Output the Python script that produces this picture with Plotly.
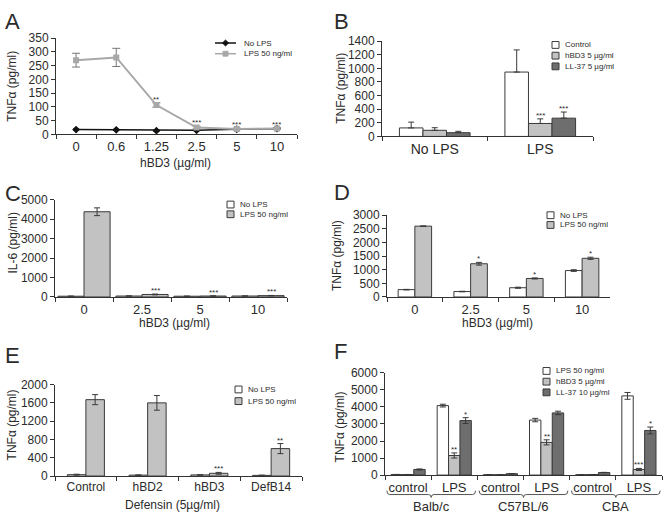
import plotly.graph_objects as go

W, H = 665, 521
FONT = "Liberation Sans, Arial, sans-serif"
TXT = "#2b2b2b"
AX = "#333333"
EDGE = "#3a3a3a"
WHITE = "#ffffff"
LIGHT = "#c2c2c2"
DARK = "#6e6e6e"
GRAYLINE = "#a8a8a8"

# ---------------- data ----------------
# Panel A
a_doses = ["0", "0.6", "1.25", "2.5", "5", "10"]
a_nolps = [18, 17, 14, 15, 19, 21]
a_nolps_err = [2, 2, 2, 2, 2, 2]
a_lps = [270, 280, 107, 25, 20, 22]
a_lps_err = [25, 33, 8, 5, 3, 3]
a_sig = ["", "", "**", "***", "***", "***"]

# Panel B
b_cats = ["No LPS", "LPS"]
b_control = [125, 945]
b_control_err = [85, 325]
b_hbd3 = [90, 190]
b_hbd3_err = [38, 68]
b_ll37 = [55, 268]
b_ll37_err = [20, 90]
b_sig_hbd3 = ["", "***"]
b_sig_ll37 = ["", "***"]

# Panel C
c_doses = ["0", "2.5", "5", "10"]
c_nolps = [40, 50, 40, 50]
c_nolps_err = [5, 5, 5, 5]
c_lps = [4380, 130, 50, 70]
c_lps_err = [200, 20, 10, 10]
c_sig = ["", "***", "***", "***"]

# Panel D
d_doses = ["0", "2.5", "5", "10"]
d_nolps = [270, 200, 340, 970]
d_nolps_err = [10, 10, 20, 30]
d_lps = [2600, 1220, 680, 1420]
d_lps_err = [10, 50, 20, 40]
d_sig = ["", "*", "*", "*"]

# Panel E
e_cats = ["Control", "hBD2", "hBD3", "DefB14"]
e_nolps = [30, 20, 25, 15]
e_nolps_err = [10, 5, 5, 5]
e_lps = [1670, 1600, 60, 600]
e_lps_err = [110, 160, 20, 110]
e_sig = ["", "", "***", "**"]

# Panel F
f_strains = ["Balb/c", "C57BL/6", "CBA"]
f_conds = ["control", "LPS"]
f_lps = [30, 4080, 20, 3230, 20, 4650]
f_lps_err = [10, 80, 5, 100, 5, 200]
f_hbd3 = [30, 1150, 20, 1920, 30, 330]
f_hbd3_err = [5, 150, 5, 150, 5, 60]
f_ll37 = [330, 3200, 80, 3650, 150, 2620]
f_ll37_err = [30, 170, 10, 100, 10, 200]
f_sig_hbd3 = ["", "**", "", "**", "", "***"]
f_sig_ll37 = ["", "*", "", "", "", "*"]

# ---------------- helpers ----------------
def px(x):
    return x / W


def py(y):
    return 1 - y / H


fig = go.Figure()


def setup_axes(n, xd, yd, yrange, dtick, ncat, tickvals=None, ticktext=None, xfont=13):
    xs = "" if n == 1 else str(n)
    fig.update_layout({
        "xaxis" + xs: dict(
            domain=[px(xd[0]), px(xd[1])], anchor="y" + xs, type="category",
            range=[-0.5, ncat - 0.5], showline=True, linecolor=AX, linewidth=1,
            ticks="outside", tickson="boundaries", ticklen=4, tickcolor=AX,
            showgrid=False, zeroline=False, fixedrange=True, tickangle=0,
            tickfont=dict(size=xfont, color=TXT, family=FONT),
            tickvals=tickvals, ticktext=ticktext,
        ),
        "yaxis" + xs: dict(
            domain=[py(yd[1]), py(yd[0])], anchor="x" + xs, range=list(yrange),
            dtick=dtick, showline=True, linecolor=AX, linewidth=1,
            ticks="outside", ticklen=4, tickcolor=AX, showgrid=False,
            zeroline=False, fixedrange=True,
            tickfont=dict(size=12, color=TXT, family=FONT),
        ),
    })


def axis_refs(n):
    s = "" if n == 1 else str(n)
    return "x" + s, "y" + s


def add_bars(n, cats, series, group_w, one_sided=False):
    xa, ya = axis_refs(n)
    k_n = len(series)
    w = group_w / k_n
    for k, (vals, errs, color, sig) in enumerate(series):
        off = -group_w / 2 + k * w
        err = dict(type="data", array=errs, color=EDGE, thickness=1, width=3, visible=True)
        if one_sided:
            err.update(symmetric=False, arrayminus=[0] * len(errs))
        fig.add_trace(go.Bar(
            x=cats, y=vals, width=w, offset=off, xaxis=xa, yaxis=ya,
            marker=dict(color=color, line=dict(color=EDGE, width=1)),
            error_y=err, showlegend=False, hoverinfo="skip",
        ))
        if sig:
            for i, s in enumerate(sig):
                if s:
                    fig.add_annotation(
                        x=i + off + w / 2, y=vals[i] + errs[i], xref=xa, yref=ya,
                        text=s, showarrow=False, yanchor="bottom", yshift=-3,
                        font=dict(size=8, color=TXT, family=FONT),
                    )


def label(text, x, y, size=12, angle=0, anchor="center"):
    fig.add_annotation(
        x=px(x), y=py(y), xref="paper", yref="paper", text=text, showarrow=False,
        textangle=angle, xanchor=anchor, yanchor="middle",
        font=dict(size=size, color=TXT, family=FONT),
    )


def legend_boxes(x0, ys, items, box=7):
    for y, (name, color) in zip(ys, items):
        fig.add_shape(type="rect", xref="paper", yref="paper",
                      x0=px(x0), x1=px(x0 + box), y0=py(y + box / 2), y1=py(y - box / 2),
                      fillcolor=color, line=dict(color=EDGE, width=1))
        label(name, x0 + box + 4, y, size=8, anchor="left")


# ---------------- Panel A ----------------
setup_axes(1, (56, 297), (32, 131), (0, 350), 50, len(a_doses))
fig.add_trace(go.Scatter(
    x=a_doses, y=a_nolps, mode="lines+markers", xaxis="x", yaxis="y",
    line=dict(color="#111111", width=1.5), marker=dict(symbol="diamond", size=6, color="#111111"),
    error_y=dict(type="data", array=a_nolps_err, color="#111111", thickness=1, width=3),
    showlegend=False, hoverinfo="skip",
))
fig.add_trace(go.Scatter(
    x=a_doses, y=a_lps, mode="lines+markers", xaxis="x", yaxis="y",
    line=dict(color=GRAYLINE, width=2), marker=dict(symbol="square", size=6, color=GRAYLINE),
    error_y=dict(type="data", array=a_lps_err, color="#777777", thickness=1, width=4),
    showlegend=False, hoverinfo="skip",
))
for i, s in enumerate(a_sig):
    if s:
        fig.add_annotation(x=i, y=a_lps[i] + a_lps_err[i], xref="x", yref="y",
                           text=s, showarrow=False, yanchor="bottom", yshift=-3,
                           font=dict(size=8, color=TXT, family=FONT))
# legend A
for y, col, sym in [(37, "#111111", "diamond"), (48, GRAYLINE, "square")]:
    fig.add_shape(type="line", xref="paper", yref="paper", x0=px(215), x1=px(236),
                  y0=py(y), y1=py(y), line=dict(color=col, width=1.5))
    if sym == "diamond":
        fig.add_shape(type="path", xref="paper", yref="paper",
                      path=f"M {px(222.5)},{py(y)} L {px(225.5)},{py(y-3)} L {px(228.5)},{py(y)} L {px(225.5)},{py(y+3)} Z",
                      fillcolor=col, line=dict(color=col, width=1))
    else:
        fig.add_shape(type="rect", xref="paper", yref="paper", x0=px(223), x1=px(228),
                      y0=py(y + 2.5), y1=py(y - 2.5), fillcolor=col, line=dict(color=col, width=1))
label("No LPS", 242, 37, size=8, anchor="left")
label("LPS 50 ng/ml", 242, 48, size=8, anchor="left")
label("A", 3, 15, size=22, anchor="left")
label("TNFα (pg/ml)", 12, 82, angle=-90)
label("hBD3 (µg/ml)", 176, 160)

# ---------------- Panel B ----------------
setup_axes(2, (382, 593), (35, 133), (0, 1400), 200, len(b_cats), xfont=14)
add_bars(2, b_cats, [
    (b_control, b_control_err, WHITE, None),
    (b_hbd3, b_hbd3_err, LIGHT, b_sig_hbd3),
    (b_ll37, b_ll37_err, DARK, b_sig_ll37),
], 0.67, one_sided=True)
legend_boxes(552, [39, 50, 61], [("Control", WHITE), ("hBD3 5 µg/ml", LIGHT), ("LL-37 5 µg/ml", DARK)])
label("B", 332, 15, size=22, anchor="left")
label("TNFα (pg/ml)", 341, 84, angle=-90)

# ---------------- Panel C ----------------
setup_axes(3, (55, 287), (198, 298), (0, 5000), 1000, len(c_doses))
add_bars(3, c_doses, [
    (c_nolps, c_nolps_err, WHITE, None),
    (c_lps, c_lps_err, LIGHT, c_sig),
], 0.9)
legend_boxes(227, [203, 213], [("No LPS", WHITE), ("LPS 50 ng/ml", LIGHT)])
label("C", 3, 192, size=22, anchor="left")
label("IL-6 (pg/ml)", 13, 243, angle=-90)
label("hBD3 (µg/ml)", 174, 325)

# ---------------- Panel D ----------------
setup_axes(4, (387, 610), (214, 298), (0, 3000), 500, len(d_doses))
add_bars(4, d_doses, [
    (d_nolps, d_nolps_err, WHITE, None),
    (d_lps, d_lps_err, LIGHT, d_sig),
], 0.6)
legend_boxes(547, [214, 224], [("No LPS", WHITE), ("LPS 50 ng/ml", LIGHT)])
label("D", 332, 191, size=22, anchor="left")
label("TNFα (pg/ml)", 337, 256, angle=-90)
label("hBD3 (µg/ml)", 497, 325)

# ---------------- Panel E ----------------
setup_axes(5, (55, 302), (388, 482), (0, 2000), 400, len(e_cats), xfont=12)
add_bars(5, e_cats, [
    (e_nolps, e_nolps_err, WHITE, None),
    (e_lps, e_lps_err, LIGHT, e_sig),
], 0.6)
legend_boxes(235, [393, 405], [("No LPS", WHITE), ("LPS 50 ng/ml", LIGHT)])
label("E", 3, 358, size=22, anchor="left")
label("TNFα (pg/ml)", 12, 430, angle=-90)
label("Defensin (5µg/ml)", 172, 512)

# ---------------- Panel F ----------------
f_keys = [f"{s} {c}" for s in f_strains for c in f_conds]
f_ticktext = [c for s in f_strains for c in f_conds]
setup_axes(6, (385, 662), (376, 481), (0, 6000), 1000, len(f_keys),
           tickvals=f_keys, ticktext=f_ticktext, xfont=13)
add_bars(6, f_keys, [
    (f_lps, f_lps_err, WHITE, None),
    (f_hbd3, f_hbd3_err, LIGHT, f_sig_hbd3),
    (f_ll37, f_ll37_err, DARK, f_sig_ll37),
], 0.74)
legend_boxes(543, [374, 385, 396], [("LPS 50 ng/ml", WHITE), ("hBD3 5 µg/ml", LIGHT), ("LL-37 10 µg/ml", DARK)])
label("F", 332, 354, size=22, anchor="left")
label("TNFα (pg/ml)", 340, 432, angle=-90)

# braces + strain labels
yl, yu, yd = py(501), py(497), py(504)
for j, strain in enumerate(f_strains):
    x0, x1 = 2 * j - 0.46, 2 * j + 1.46
    xm = 2 * j + 0.5
    d = 0.06
    path = (f"M {x0},{yu} Q {x0},{yl} {x0 + d},{yl} L {xm - d},{yl} Q {xm},{yl} {xm},{yd} "
            f"Q {xm},{yl} {xm + d},{yl} L {x1 - d},{yl} Q {x1},{yl} {x1},{yu}")
    fig.add_shape(type="path", xref="x6", yref="paper", path=path,
                  line=dict(color="#555555", width=1))
    fig.add_annotation(x=xm, y=py(513), xref="x6", yref="paper", text=strain,
                       showarrow=False, yanchor="middle",
                       font=dict(size=13, color=TXT, family=FONT))

fig.update_layout(
    width=W, height=H, margin=dict(l=0, r=0, t=0, b=0),
    paper_bgcolor="white", plot_bgcolor="white", showlegend=False,
    barmode="group", font=dict(family=FONT, color=TXT),
)

fig.write_html(
    "out.html",
    config={"displayModeBar": False},
    post_script="document.body.style.margin='0px';document.body.style.padding='0px';document.body.style.overflow='hidden';",
)
